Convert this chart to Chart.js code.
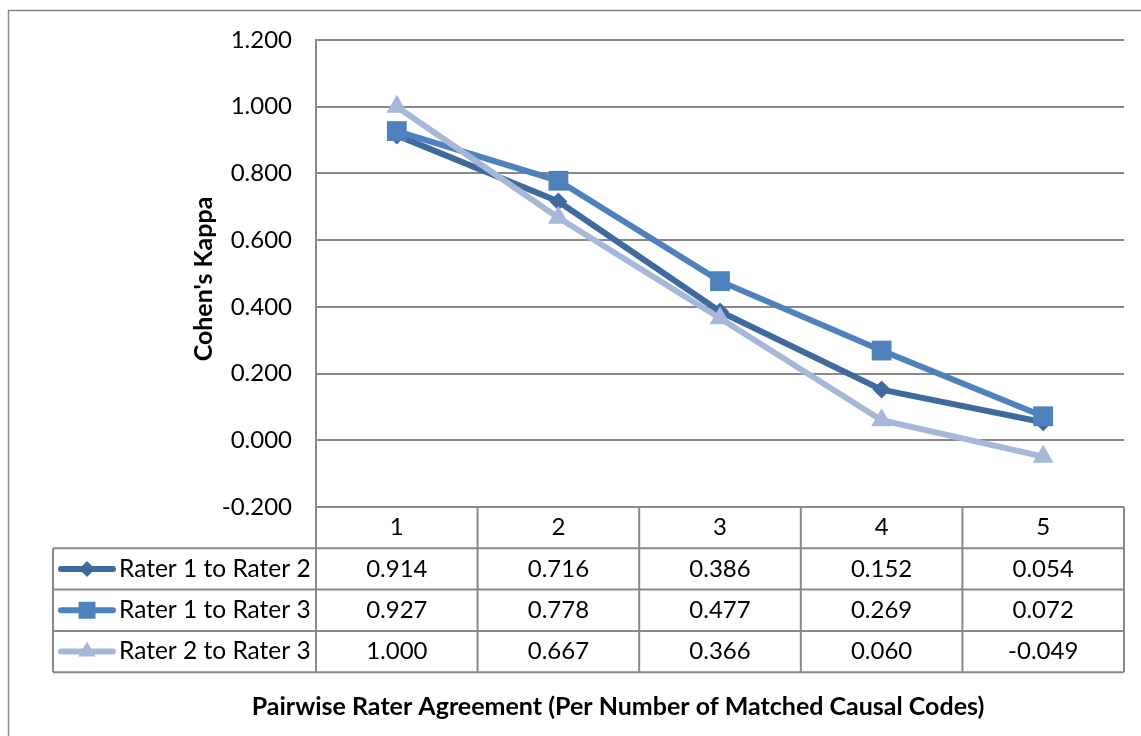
<!DOCTYPE html>
<html>
<head>
<meta charset="utf-8">
<script src="https://cdn.jsdelivr.net/npm/chart.js@4/dist/chart.umd.min.js"></script>
<style>
  html, body { margin: 0; padding: 0; background: #ffffff; }
  #wrap { width: 1141px; height: 736px; position: relative; }
</style>
</head>
<body>
<div id="wrap"><canvas id="c" width="1141" height="736"></canvas></div>
<script>
// Categories: number of matched causal codes
const categories = ['1', '2', '3', '4', '5'];
const seriesNames = ['Rater 1 to Rater 2', 'Rater 1 to Rater 3', 'Rater 2 to Rater 3'];
// Cohen's kappa per rater pair
const rater1to2 = [0.914, 0.716, 0.386, 0.152, 0.054];
const rater1to3 = [0.927, 0.778, 0.477, 0.269, 0.072];
const rater2to3 = [1.000, 0.667, 0.366, 0.060, -0.049];
const yMin = -0.2, yMax = 1.2, yStep = 0.2;

const FONT = 'Lato, "Open Sans", sans-serif';
const GRID = '#898989';
const colors = ['#3E6A9E', '#4F81BD', '#A6B7D7'];
const styles = ['rectRot', 'rect', 'triangle'];
const radii = [9, 14, 12];
const seriesData = [rater1to2, rater1to3, rater2to3];

function fmt(v) { return (Math.abs(v) < 1e-9 ? 0 : v).toFixed(3); }

function drawMarker(ctx, style, x, y, r, color) {
  ctx.save();
  ctx.fillStyle = color;
  ctx.beginPath();
  if (style === 'rectRot') {
    ctx.moveTo(x - r, y); ctx.lineTo(x, y - r); ctx.lineTo(x + r, y); ctx.lineTo(x, y + r);
  } else if (style === 'rect') {
    const s = r * Math.SQRT1_2;
    ctx.rect(x - s, y - s, 2 * s, 2 * s);
  } else {
    const h = r * 1.5, w = r * Math.sqrt(3);
    ctx.moveTo(x, y - r); ctx.lineTo(x + w / 2, y - r + h); ctx.lineTo(x - w / 2, y - r + h);
  }
  ctx.closePath();
  ctx.fill();
  ctx.restore();
}

// Data table beneath the plot, axis titles and chart frame
const tablePlugin = {
  id: 'dataTable',
  afterDraw(chart) {
    const ctx = chart.ctx;
    const area = chart.chartArea;
    const xs = chart.scales.x;
    const n = categories.length;
    const colW = (area.right - area.left) / n;
    const rowH = 41.3;
    const top = area.bottom;
    const legendLeft = 53;
    ctx.save();

    // outer frame
    ctx.strokeStyle = GRID;
    ctx.lineWidth = 1.5;
    ctx.strokeRect(8.5, 10.5, 1200, 800);

    // table grid
    ctx.strokeStyle = GRID;
    ctx.lineWidth = 2;
    ctx.beginPath();
    ctx.moveTo(area.left, top); ctx.lineTo(area.right, top);
    for (let r = 1; r <= 4; r++) {
      const y = top + r * rowH;
      ctx.moveTo(legendLeft, y); ctx.lineTo(area.right, y);
    }
    const bottom = top + 4 * rowH;
    ctx.moveTo(legendLeft, top + rowH); ctx.lineTo(legendLeft, bottom);
    for (let c = 0; c <= n; c++) {
      const x = area.left + c * colW;
      ctx.moveTo(x, top); ctx.lineTo(x, bottom);
    }
    ctx.stroke();

    // header row and values
    ctx.fillStyle = '#000';
    ctx.font = '24px ' + FONT;
    ctx.textAlign = 'center';
    ctx.textBaseline = 'middle';
    categories.forEach((c, i) => {
      const x = xs.getPixelForValue(i);
      ctx.fillText(c, x, top + rowH * 0.5);
      seriesData.forEach((arr, s) => {
        ctx.fillText(fmt(arr[i]), x, top + rowH * (s + 1.5));
      });
    });

    // legend keys
    ctx.font = '24.5px ' + FONT;
    seriesNames.forEach((name, s) => {
      const y = top + rowH * (s + 1.5);
      ctx.strokeStyle = colors[s];
      ctx.lineWidth = 6;
      ctx.lineCap = 'round';
      ctx.beginPath();
      ctx.moveTo(61, y); ctx.lineTo(113, y);
      ctx.stroke();
      drawMarker(ctx, styles[s], 87, y, [8, 12, 10][s], colors[s]);
      ctx.fillStyle = '#000';
      ctx.textAlign = 'left';
      ctx.fillText(name, 119, y);
    });

    // axis titles
    ctx.font = 'bold 25px ' + FONT;
    ctx.textAlign = 'center';
    ctx.fillText('Pairwise Rater Agreement (Per Number of Matched Causal Codes)', 618, 707);
    ctx.translate(204, 279);
    ctx.rotate(-Math.PI / 2);
    ctx.fillText("Cohen's Kappa", 0, 0);
    ctx.restore();
  }
};

new Chart(document.getElementById('c'), {
  type: 'line',
  data: {
    labels: categories,
    datasets: seriesNames.map((name, s) => ({
      label: name,
      data: seriesData[s],
      borderColor: colors[s],
      backgroundColor: colors[s],
      borderWidth: 6,
      pointStyle: styles[s],
      pointRadius: radii[s],
      pointBorderWidth: 0,
      pointBackgroundColor: colors[s],
      pointBorderColor: colors[s],
      tension: 0,
      order: 3 - s
    }))
  },
  options: {
    responsive: false,
    devicePixelRatio: 1,
    animation: false,
    layout: { padding: { top: 40, bottom: 229, right: 17, left: 0 } },
    plugins: { legend: { display: false }, tooltip: { enabled: false } },
    scales: {
      x: { display: false, offset: true },
      y: {
        min: yMin, max: yMax,
        afterFit(scale) { scale.width = 316; },
        ticks: {
          stepSize: yStep,
          padding: 24,
          color: '#000',
          font: { family: FONT, size: 24 },
          callback: v => fmt(v)
        },
        grid: { color: GRID, lineWidth: 2, drawTicks: false },
        border: { display: true, color: GRID, width: 2 }
      }
    }
  },
  plugins: [tablePlugin]
});
</script>
</body>
</html>
